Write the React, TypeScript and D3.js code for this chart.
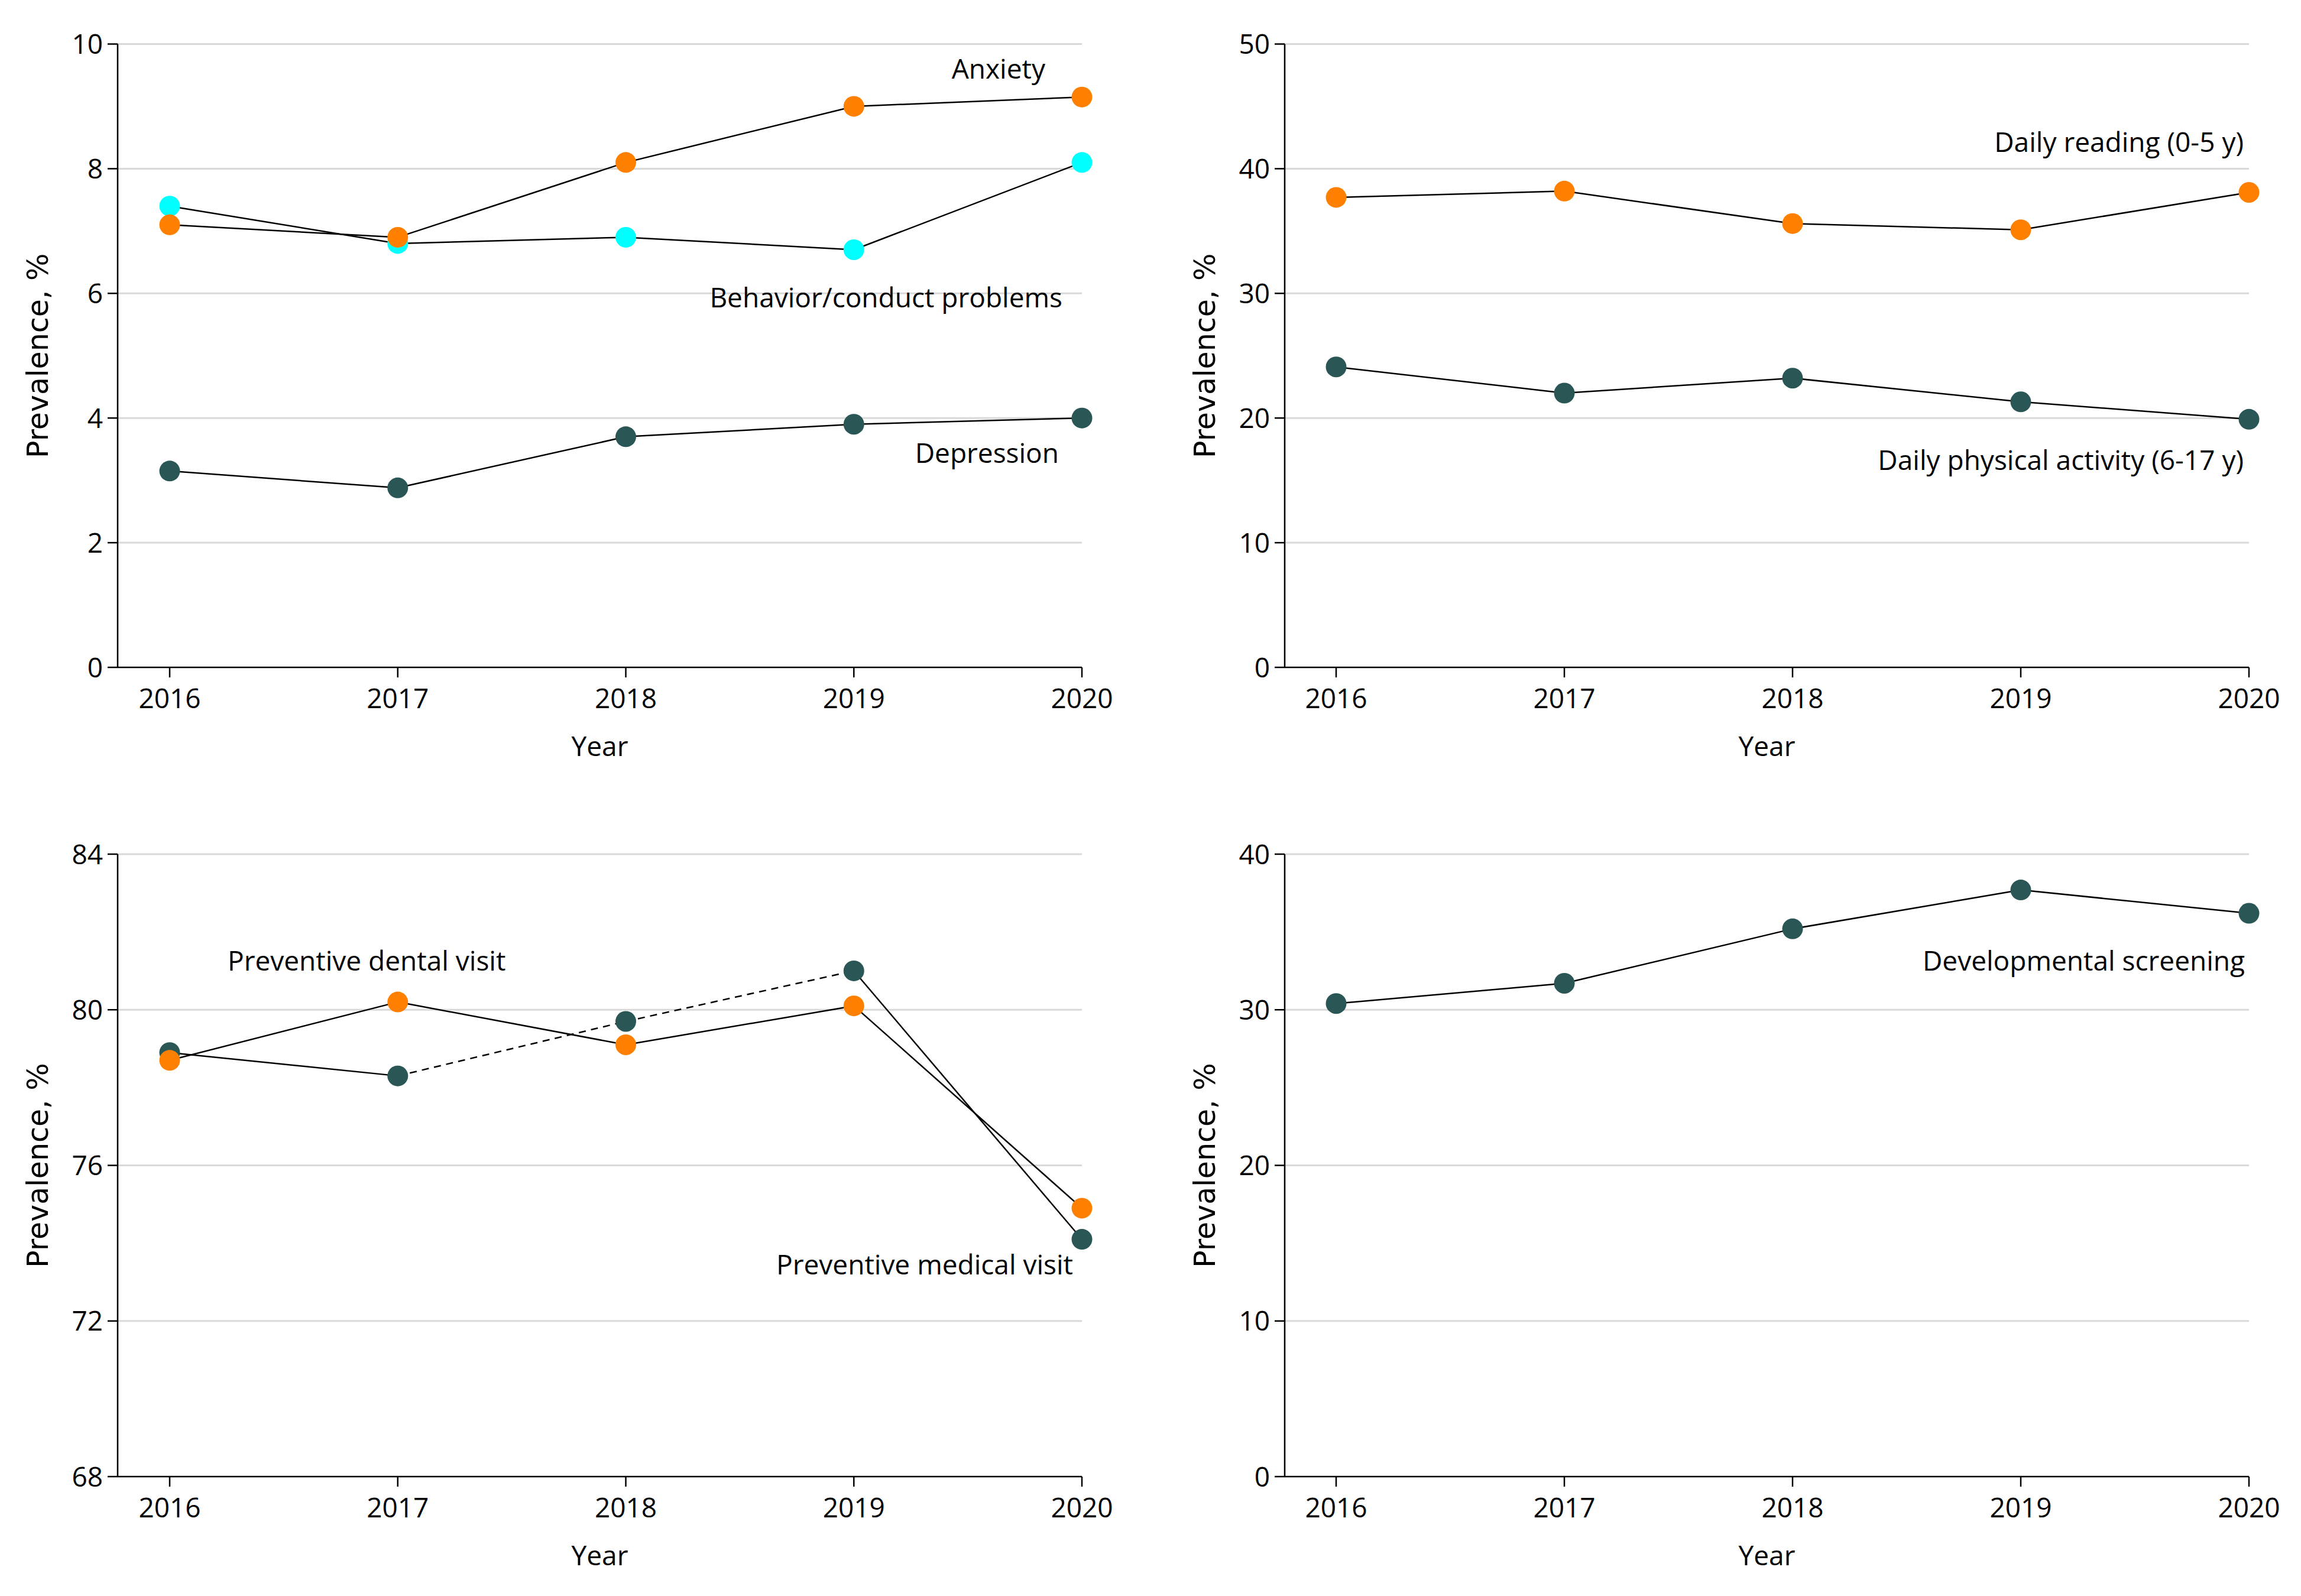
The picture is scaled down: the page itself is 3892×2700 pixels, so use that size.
import React from 'react';
import * as d3 from 'd3';

const years = [2016, 2017, 2018, 2019, 2020];

// panel A: mental health
const anxiety = [7.1, 6.9, 8.1, 9.0, 9.15];
const behavior = [7.4, 6.8, 6.9, 6.7, 8.1];
const depression = [3.15, 2.88, 3.7, 3.9, 4.0];
const ticksA = [0, 2, 4, 6, 8, 10];

// panel B: daily habits
const dailyReading = [37.7, 38.2, 35.6, 35.1, 38.1];
const physicalActivity = [24.1, 22.0, 23.2, 21.3, 19.9];
const ticksB = [0, 10, 20, 30, 40, 50];

// panel C: preventive visits
const dentalVisit = [78.7, 80.2, 79.1, 80.1, 74.9];
const medicalVisit = [78.9, 78.3, 79.7, 81.0, 74.1];
const ticksC = [68, 72, 76, 80, 84];

// panel D: developmental screening
const devScreening = [30.4, 31.7, 35.2, 37.7, 36.2];
const ticksD = [0, 10, 20, 30, 40];

const ORANGE = '#ff8000';
const CYAN = '#00ffff';
const TEAL = '#2a5656';
const GRID = '#d9d9d9';
const FONT = '"Open Sans", "Noto Sans", sans-serif';

type Series = { values: number[]; color: string; dashed?: number[] };
type Note = { text: string; x: number; y: number; anchor: string };

type PanelProps = {
  axisX: number;
  x0: number;
  x1: number;
  top: number;
  bottom: number;
  ticks: number[];
  series: Series[];
  notes: Note[];
};

const Panel = ({ axisX, x0, x1, top, bottom, ticks, series, notes }: PanelProps) => {
  const x = d3.scalePoint<number>().domain(years).range([x0, x1]);
  const y = d3.scaleLinear().domain(d3.extent(ticks) as [number, number]).range([bottom, top]);
  const line = d3.line<number>().x((_, i) => x(years[i])!).y(d => y(d));

  return (
    <g>
      {ticks.map(t => (
        <g key={t}>
          {t !== ticks[0] && (
            <line x1={axisX} x2={x1} y1={y(t)} y2={y(t)} stroke={GRID} strokeWidth={3} />
          )}
          <line x1={axisX - 17} x2={axisX} y1={y(t)} y2={y(t)} stroke="#000" strokeWidth={2.5} />
          <text x={axisX - 25} y={y(t)} dy="0.36em" textAnchor="end" fontSize={46} fontFamily={FONT}>
            {t}
          </text>
        </g>
      ))}
      <line x1={axisX} x2={axisX} y1={top} y2={bottom} stroke="#000" strokeWidth={2.5} />
      <line x1={axisX} x2={x1} y1={bottom} y2={bottom} stroke="#000" strokeWidth={2.5} />
      {years.map(yr => (
        <g key={yr}>
          <line x1={x(yr)} x2={x(yr)} y1={bottom} y2={bottom + 17} stroke="#000" strokeWidth={2.5} />
          <text x={x(yr)} y={bottom + 69} textAnchor="middle" fontSize={46} fontFamily={FONT}>
            {yr}
          </text>
        </g>
      ))}
      <text
        x={(axisX + x1) / 2}
        y={bottom + 150}
        textAnchor="middle"
        fontSize={46}
        fontFamily={FONT}
      >
        Year
      </text>
      <text
        transform={`translate(${axisX - 118},${(top + bottom) / 2}) rotate(-90)`}
        textAnchor="middle"
        fontSize={49}
        fontFamily='"DejaVu Sans", sans-serif'
      >
        Prevalence, %
      </text>

      {series.map((s, si) =>
        s.values.slice(1).map((v, i) => {
          const seg = [s.values[i], v];
          const d = d3
            .line<number>()
            .x((_, j) => x(years[i + j])!)
            .y(dv => y(dv))(seg);
          const dashed = s.dashed && s.dashed.includes(i);
          return (
            <path
              key={`${si}-${i}`}
              d={d || ''}
              fill="none"
              stroke="#000"
              strokeWidth={2.5}
              strokeDasharray={dashed ? '12 9' : undefined}
            />
          );
        })
      )}
      {series.map((s, si) =>
        s.values.map((v, i) => (
          <circle key={`c${si}-${i}`} cx={x(years[i])} cy={y(v)} r={17.5} fill={s.color} />
        ))
      )}
      {notes.map(n => (
        <text key={n.text} x={n.x} y={n.y} textAnchor={n.anchor} fontSize={46} fontFamily={FONT}>
          {n.text}
        </text>
      ))}
      {/* keep line generator referenced for consistency */}
      <path d={line([]) || ''} fill="none" />
    </g>
  );
};

export default function App() {
  const topRow = { top: 74.5, bottom: 1129 };
  const botRow = { top: 1445, bottom: 2498 };
  const left = { axisX: 199, x0: 287, x1: 1830 };
  const right = { axisX: 2173, x0: 2260, x1: 3804 };

  return (
    <svg
      width={3892}
      height={2700}
      style={{ position: 'absolute', left: 0, top: 0, background: '#fff' }}
    >
      <rect width={3892} height={2700} fill="#fff" />
      <Panel
        {...left}
        {...topRow}
        ticks={ticksA}
        series={[
          { values: depression, color: TEAL },
          { values: behavior, color: CYAN },
          { values: anxiety, color: ORANGE },
        ]}
        notes={[
          { text: 'Anxiety', x: 1768, y: 133, anchor: 'end' },
          { text: 'Behavior/conduct problems', x: 1797, y: 520, anchor: 'end' },
          { text: 'Depression', x: 1791, y: 783, anchor: 'end' },
        ]}
      />
      <Panel
        {...right}
        {...topRow}
        ticks={ticksB}
        series={[
          { values: physicalActivity, color: TEAL },
          { values: dailyReading, color: ORANGE },
        ]}
        notes={[
          { text: 'Daily reading (0-5 y)', x: 3795, y: 257, anchor: 'end' },
          { text: 'Daily physical activity (6-17 y)', x: 3795, y: 795, anchor: 'end' },
        ]}
      />
      <Panel
        {...left}
        {...botRow}
        ticks={ticksC}
        series={[
          { values: medicalVisit, color: TEAL, dashed: [1, 2] },
          { values: dentalVisit, color: ORANGE },
        ]}
        notes={[
          { text: 'Preventive dental visit', x: 385, y: 1642, anchor: 'start' },
          { text: 'Preventive medical visit', x: 1815, y: 2156, anchor: 'end' },
        ]}
      />
      <Panel
        {...right}
        {...botRow}
        ticks={ticksD}
        series={[{ values: devScreening, color: TEAL }]}
        notes={[{ text: 'Developmental screening', x: 3797, y: 1642, anchor: 'end' }]}
      />
    </svg>
  );
}
